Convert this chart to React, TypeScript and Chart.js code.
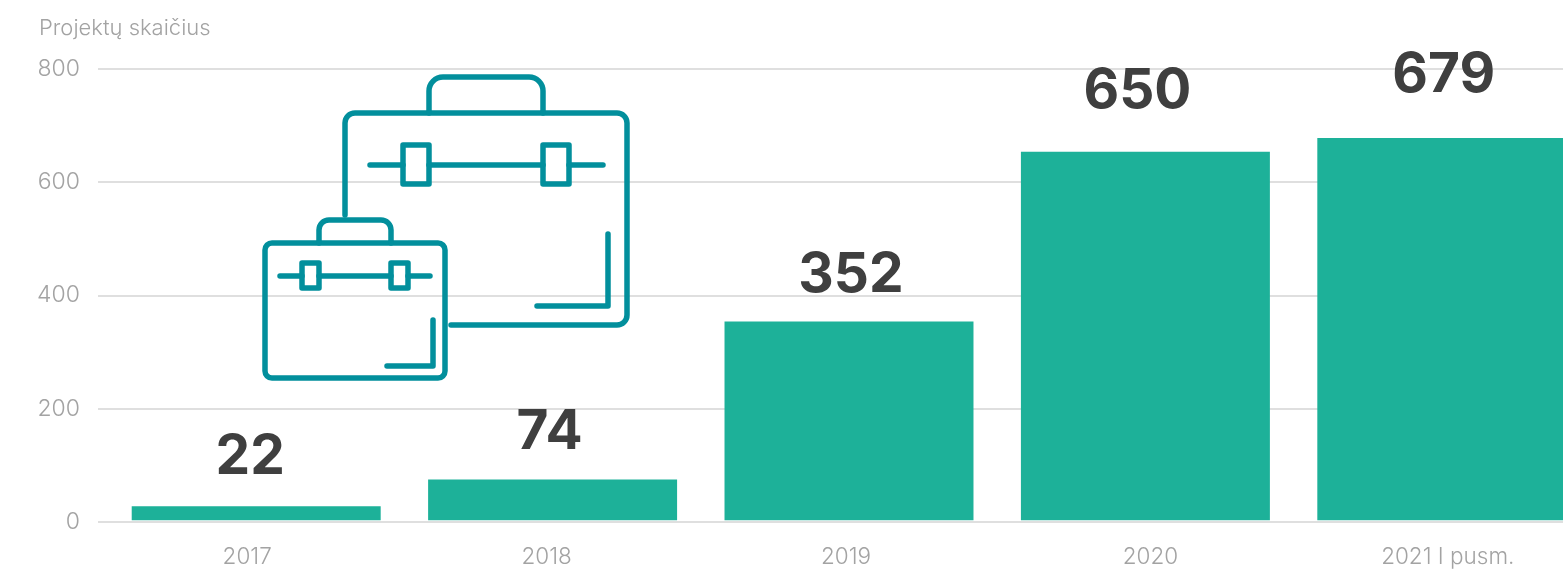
import React, { useEffect, useRef } from "react";
import { Chart, registerables } from "chart.js";

Chart.register(...registerables);

const categories = ["2017", "2018", "2019", "2020", "2021 I pusm."];
const barValues = [28, 75, 354, 654, 678];
const valueLabels = ["22", "74", "352", "650", "679"];
const yTicks = [0, 200, 400, 600, 800];
const axisTitle = "Projektų skaičius";

const TEAL = "#1db199";
const GRID = "#dfdfdf";
const MUTED = "#a3a3a3";
const DARK = "#3f3f3f";
const ICON = "#028f9c";
const FONT = "Inter, Lato, sans-serif";

// small per-item nudges of text relative to its bar, as in the picture
const tickShift = [-9, -6, -3, 5, 6];
const labelShift = [-6, -3, 2, -8, 2];
const labelGap = [32, 31, 30, 44, 46];

const overlayText = {
  id: "overlayText",
  afterDatasetsDraw(chart: any) {
    const { ctx } = chart;
    const meta = chart.getDatasetMeta(0);
    ctx.save();
    ctx.fillStyle = DARK;
    ctx.font = `700 55px ${FONT}`;
    ctx.textAlign = "center";
    ctx.textBaseline = "alphabetic";
    meta.data.forEach((bar: any, i: number) => {
      ctx.fillText(valueLabels[i], bar.x + labelShift[i], bar.y - labelGap[i]);
    });
    ctx.fillStyle = MUTED;
    ctx.font = `300 22px ${FONT}`;
    ctx.textAlign = "left";
    ctx.fillText(axisTitle, 39, 35);
    ctx.restore();
  },
};

function BriefcaseIcon() {
  return (
    <svg
      width={1563}
      height={569}
      style={{ position: "absolute", left: 0, top: 0, pointerEvents: "none" }}
      fill="none"
      stroke={ICON}
      strokeWidth={5.5}
      strokeLinecap="round"
      strokeLinejoin="round"
    >
      <path d="M345 215V123a10 10 0 0 1 10-10H617a10 10 0 0 1 10 10V315a10 10 0 0 1-10 10H451" />
      <path d="M429 113V91a14 14 0 0 1 14-14H529a14 14 0 0 1 14 14V113" />
      <path d="M370 165H403M429 165H543M569 165H603" />
      <rect x={403} y={145} width={26} height={39} />
      <rect x={543} y={145} width={26} height={39} />
      <path d="M608 234V306H537" />
      <rect x={265} y={243} width={180} height={135} rx={7} />
      <path d="M319 243V230a10 10 0 0 1 10-10H381a10 10 0 0 1 10 10V243" />
      <path d="M280 276H302M319 276H391M408 276H430" />
      <rect x={302} y={263} width={17} height={25} />
      <rect x={391} y={263} width={17} height={25} />
      <path d="M433 320V366H387" />
    </svg>
  );
}

export default function App() {
  const ref = useRef<HTMLCanvasElement>(null);

  useEffect(() => {
    const chart = new Chart(ref.current as HTMLCanvasElement, {
      type: "bar",
      data: {
        labels: categories,
        datasets: [
          {
            data: barValues,
            backgroundColor: TEAL,
            base: 3,
            barPercentage: 0.84,
            categoryPercentage: 1,
          } as any,
        ],
      },
      plugins: [overlayText],
      options: {
        responsive: false,
        animation: false,
        events: [],
        layout: { padding: { top: 69, left: 0, right: 0, bottom: 0 } },
        plugins: { legend: { display: false }, tooltip: { enabled: false } },
        scales: {
          x: {
            grid: { display: false },
            border: { display: false },
            ticks: {
              color: MUTED,
              font: { family: FONT, size: 22.5, weight: 300 },
              padding: 14,
              autoSkip: false,
              maxRotation: 0,
            },
            afterFit(scale: any) {
              scale.height = 47;
            },
            afterUpdate(scale: any) {
              const base = scale.getPixelForTick;
              scale.getPixelForTick = function (i: number) {
                return base.call(scale, i) + tickShift[i];
              };
            },
          } as any,
          y: {
            min: yTicks[0],
            max: yTicks[yTicks.length - 1],
            afterBuildTicks(scale: any) {
              scale.ticks = yTicks.map((value) => ({ value }));
            },
            grid: { color: GRID, lineWidth: 2, tickLength: 10, tickColor: GRID },
            border: { display: false },
            ticks: {
              color: MUTED,
              font: { family: FONT, size: 23, weight: 300 },
              padding: 18,
            },
            afterFit(scale: any) {
              scale.width = 108;
            },
          } as any,
        },
      },
    });
    return () => chart.destroy();
  }, []);

  return (
    <div style={{ position: "absolute", left: 0, top: 0, width: 1563, height: 569, overflow: "hidden", background: "#fff" }}>
      <canvas ref={ref} width={1590} height={569} style={{ display: "block" }} />
      <BriefcaseIcon />
    </div>
  );
}
